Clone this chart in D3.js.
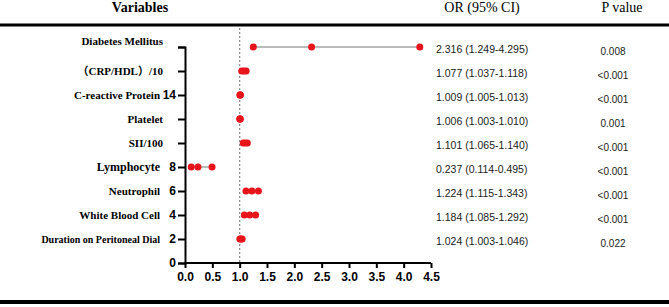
<!DOCTYPE html>
<html>
  <meta charset="utf-8" />
  <head>
    <title>Forest plot</title>
    <script src="https://cdn.jsdelivr.net/npm/d3@7"></script>
  </head>
  <style>
    body { margin: 0; background: #fff; }
  </style>
  <body>
    <svg width="669" height="307"></svg>
    <script>
      // rows from top to bottom
      var variables = ["Diabetes Mellitus", "\uff08CRP/HDL\uff09/10", "C-reactive Protein", "Platelet", "SII/100",
                       "Lymphocyte", "Neutrophil", "White Blood Cell", "Duration on Peritoneal Dial"];
      var rowPos = [18, 16, 14, 12, 10, 8, 6, 4, 2];   // y value of each row on the axis
      var orValue = [2.316, 1.077, 1.009, 1.006, 1.101, 0.237, 1.224, 1.184, 1.024];
      var ciLow   = [1.249, 1.037, 1.005, 1.003, 1.065, 0.114, 1.115, 1.085, 1.003];
      var ciHigh  = [4.295, 1.118, 1.013, 1.010, 1.140, 0.495, 1.343, 1.292, 1.046];
      var pValues = ["0.008", "<0.001", "<0.001", "0.001", "<0.001", "<0.001", "<0.001", "<0.001", "0.022"];
      var xTicks = [0, 0.5, 1, 1.5, 2, 2.5, 3, 3.5, 4, 4.5];
      var yTicks = [0, 2, 4, 6, 8, 10, 12, 14, 16, 18];
      var yTickLabels = [0, 2, 4, 6, 8, 14];   // only these numbers are printed

      // label font sizes (the original figure is not uniform)
      var labelSize = {"Lymphocyte": 12, "Duration on Peritoneal Dial": 10};

      var SERIF = "'Liberation Serif', 'Times New Roman', 'Noto Sans CJK SC', serif";
      var SANS = "'Liberation Sans', Arial, sans-serif";

      var svg = d3.select("svg");
      var W = 669;

      var x = d3.scaleLinear().domain([0, 4.5]).range([185, 431]);
      var y = d3.scaleLinear().domain([0, 18]).range([263, 47]);

      // header
      var header = svg.append("g").attr("font-family", SERIF).attr("font-size", 14).attr("text-anchor", "middle");
      header.append("text").attr("x", 140).attr("y", 12).attr("font-weight", "bold").text("Variables");
      header.append("text").attr("x", 482).attr("y", 12).text("OR (95% CI)");
      header.append("text").attr("x", 622).attr("y", 12).text("P value");

      svg.append("rect").attr("x", 0).attr("y", 23.5).attr("width", W).attr("height", 3).attr("fill", "#000");
      svg.append("rect").attr("x", 0).attr("y", 300).attr("width", W).attr("height", 4).attr("fill", "#000");

      // reference line at OR = 1
      svg.append("line")
        .attr("x1", x(1)).attr("x2", x(1))
        .attr("y1", 28).attr("y2", y(0))
        .attr("stroke", "#888").attr("stroke-width", 1.2)
        .attr("stroke-dasharray", "2,2");

      // axes
      var xAxis = svg.append("g")
        .attr("transform", "translate(0," + y(0) + ")")
        .call(d3.axisBottom(x).tickValues(xTicks).tickFormat(d3.format(".1f")).tickSize(5).tickPadding(4));
      var yAxis = svg.append("g")
        .attr("transform", "translate(" + x(0) + ",0)")
        .call(d3.axisLeft(y).tickValues(yTicks).tickSize(7).tickPadding(2)
          .tickFormat(function(d) { return yTickLabels.indexOf(d) >= 0 ? d : ""; }));

      [xAxis, yAxis].forEach(function(a) {
        a.attr("font-family", SANS).attr("font-size", 12).attr("font-weight", "bold");
        a.select(".domain").attr("stroke-width", 2).attr("stroke", "#000");
        a.selectAll(".tick line").attr("stroke-width", 2).attr("stroke", "#000");
        a.selectAll(".tick text").attr("fill", "#000");
      });
      // close the axes corner
      xAxis.select(".domain").attr("d", "M" + (x(0) - 1) + ",0H" + x(4.5));

      // row labels
      svg.append("g").attr("font-family", SERIF).attr("font-weight", "bold").attr("text-anchor", "end")
        .selectAll("text")
        .data(variables)
        .enter().append("text")
          .attr("x", function(d, i) { return yTickLabels.indexOf(rowPos[i]) >= 0 ? 160 : 163; })
          // the top label sits a little above its tick in the original
          .attr("y", function(d, i) { return y(rowPos[i]) + (i === 0 ? -6 : 0); })
          .attr("dy", "0.35em")
          .attr("font-size", function(d) { return labelSize[d] || 11; })
          .text(function(d) { return d; });

      // CI lines and points
      var rows = svg.append("g").selectAll("g")
        .data(variables)
        .enter().append("g");

      rows.append("line")
        .attr("x1", function(d, i) { return x(ciLow[i]); })
        .attr("x2", function(d, i) { return x(ciHigh[i]); })
        .attr("y1", function(d, i) { return y(rowPos[i]); })
        .attr("y2", function(d, i) { return y(rowPos[i]); })
        .attr("stroke", "#777").attr("stroke-width", 1);

      rows.selectAll("circle")
        .data(function(d, i) { return [ciLow[i], orValue[i], ciHigh[i]].map(function(v) { return {v: v, r: rowPos[i]}; }); })
        .enter().append("circle")
          .attr("cx", function(d) { return x(d.v); })
          .attr("cy", function(d) { return y(d.r); })
          .attr("r", 3.5)
          .attr("fill", "#e8141c");

      // OR (95% CI) column
      svg.append("g").attr("font-family", SANS).attr("font-size", 10.5).attr("fill", "#222")
        .selectAll("text")
        .data(variables)
        .enter().append("text")
          .attr("x", 436)
          .attr("y", function(d, i) { return y(rowPos[i]) + 2; })
          .attr("dy", "0.35em")
          .text(function(d, i) {
            return orValue[i].toFixed(3) + " (" + ciLow[i].toFixed(3) + "-" + ciHigh[i].toFixed(3) + ")";
          });

      // P value column
      svg.append("g").attr("font-family", SANS).attr("font-size", 10).attr("fill", "#222").attr("text-anchor", "middle")
        .selectAll("text")
        .data(pValues)
        .enter().append("text")
          .attr("x", 613)
          .attr("y", function(d, i) { return y(rowPos[i]) + 4; })
          .attr("dy", "0.35em")
          .text(function(d) { return d; });
    </script>
  </body>
</html>
